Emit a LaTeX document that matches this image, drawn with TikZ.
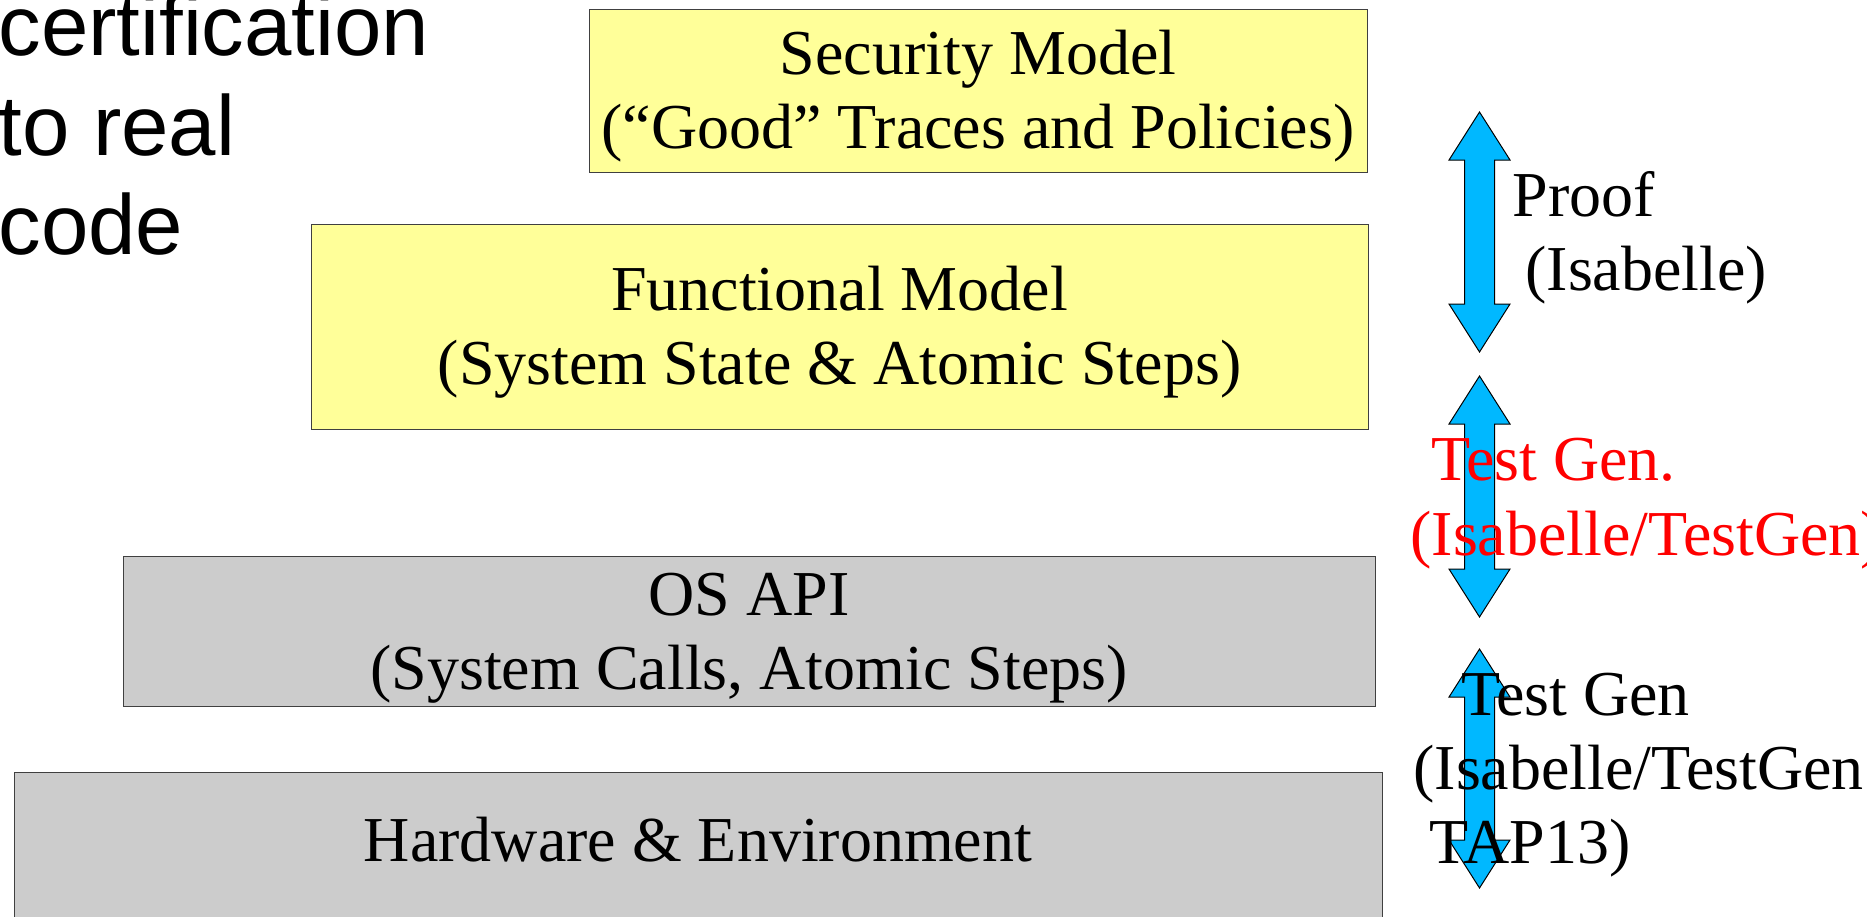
\documentclass[tikz,border=0pt]{standalone}
\usepackage{fontspec}
\setmainfont{Liberation Serif}
\setsansfont{Liberation Sans}
\usepackage{tikz}
\definecolor{layeryellow}{RGB}{255,255,153}
\definecolor{layergray}{RGB}{204,204,204}
\definecolor{arrowblue}{RGB}{0,184,255}

\begin{document}
\begin{tikzpicture}[x=0.5pt,y=-0.5pt,
    layer/.style={draw=black!75,line width=0.5pt,inner sep=0pt,align=center,font=\fontsize{32}{37}\selectfont},
    lbl/.style={anchor=base west,inner sep=0pt,font=\fontsize{32}{37}\selectfont},
    title/.style={anchor=base west,inner sep=0pt,font=\sffamily\fontsize{42.6}{50}\selectfont}]

\useasboundingbox (0,0) rectangle (1867,916);

\node[title] (tla) at (-2,55) {certification};
\node[title] (tlb) at (-2,155) {to real};
\node[title] (tlc) at (-2,254) {code};

\node[layer,fill=layeryellow,minimum width=389pt,minimum height=81.5pt] (secm) at (978,90.5) {\rule{0pt}{28pt}Security Model\\(``Good'' Traces and Policies)};
\node[layer,fill=layeryellow,minimum width=528.5pt,minimum height=102.5pt] (funm) at (839.5,326.5) {\rule{0pt}{28pt}Functional Model\\(System State \& Atomic Steps)};
\node[layer,fill=layergray,minimum width=626pt,minimum height=75.25pt] (osapi) at (749,631.25) {\rule{0pt}{28pt}OS API\\(System Calls, Atomic Steps)};
\node[layer,fill=layergray,anchor=north,minimum width=684pt,text height=22pt,text depth=40pt,inner ysep=22.5pt] (hw) at (698,772) {Hardware \& Environment};

\foreach \t/\b in {112/352,376/617,649/888}
  \draw[fill=arrowblue,line width=0.5pt] (1479.5,\t) -- (1510,\t+48) -- (1494.5,\t+48) -- (1494.5,\b-48) -- (1510,\b-48) -- (1479.5,\b) -- (1449,\b-48) -- (1464.5,\b-48) -- (1464.5,\t+48) -- (1449,\t+48) -- cycle;

\node[lbl] (pfa) at (1512,216) {Proof};
\node[lbl] (pfb) at (1525,290) {(Isabelle)};
\node[lbl,text=red] (tga) at (1431,480) {Test Gen.};
\node[lbl,text=red] (tgb) at (1410,555) {(Isabelle/TestGen)};
\node[lbl] (tgc) at (1461,715) {Test Gen};
\node[lbl] (tgd) at (1413,789) {(Isabelle/TestGen};
\node[lbl] (tge) at (1429,863) {TAP13)};
\end{tikzpicture}
\end{document}
